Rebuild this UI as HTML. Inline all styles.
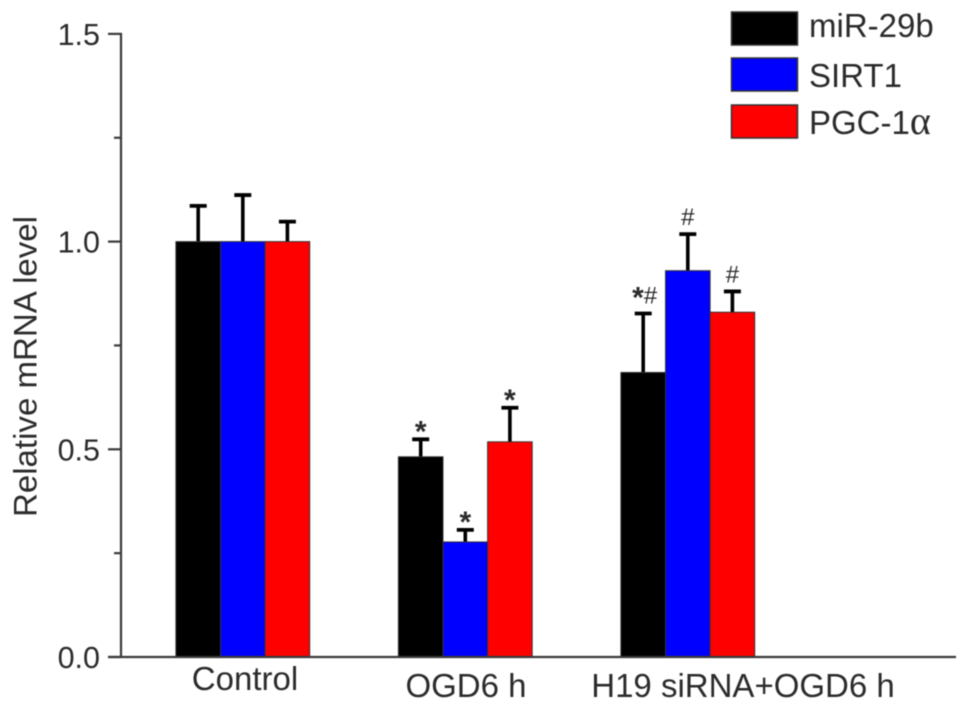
<!DOCTYPE html>
<html lang="en">
<head>
<meta charset="utf-8">
<title>Relative mRNA level</title>
<style>
  html, body { margin: 0; padding: 0; background: #fff; }
  svg { display: block; filter: blur(0.45px); }
  text { font-family: "Liberation Sans", sans-serif; fill: #2b2b2b; }
</style>
</head>
<body>
<svg id="chart" xmlns="http://www.w3.org/2000/svg" width="969" height="710" viewBox="0 0 969 710"></svg>
<script>
const categories = ["Control", "OGD6 h", "H19 siRNA+OGD6 h"];
const seriesNames = ["miR-29b", "SIRT1", "PGC-1"];
const seriesSuffixes = ["", "", "α"];
const seriesColors = ["#000000", "#0000ff", "#ff0000"];
const mir29bValues = [1.0, 0.482, 0.685];
const sirt1Values = [1.0, 0.277, 0.93];
const pgc1aValues = [1.0, 0.518, 0.83];
const mir29bErrorTops = [1.086, 0.524, 0.827];
const sirt1ErrorTops = [1.112, 0.306, 1.018];
const pgc1aErrorTops = [1.048, 0.600, 0.880];
const mir29bMarks = ["", "*", "*#"];
const sirt1Marks = ["", "*", "#"];
const pgc1aMarks = ["", "*", "#"];
const majorTicks = [0, 0.5, 1.0, 1.5];
const minorTicks = [0.25, 0.75, 1.25];
const majorTickLabels = ["0.0", "0.5", "1.0", "1.5"];
const yAxisTitle = "Relative mRNA level";

const seriesValues = [mir29bValues, sirt1Values, pgc1aValues];
const seriesErrorTops = [mir29bErrorTops, sirt1ErrorTops, pgc1aErrorTops];
const seriesMarks = [mir29bMarks, sirt1Marks, pgc1aMarks];
const seriesKeys = ["mir-29b", "sirt1", "pgc-1a"];

const svg = document.getElementById("chart");
const NS = "http://www.w3.org/2000/svg";
const axisColor = "#3a3a3a";

function yScale(v) { return 657 - v * 415.4; }
function groupCenter(i) { return 242.8 + i * 222.5; }
const barWidth = 44.6;
function barLeft(c, s) { return groupCenter(c) + (s - 1.5) * barWidth; }

function make(tag, attrs, text) {
  const el = document.createElementNS(NS, tag);
  for (const k in attrs) el.setAttribute(k, attrs[k]);
  if (text !== undefined) el.textContent = text;
  svg.appendChild(el);
  return el;
}

// bars and error bars
seriesValues.forEach(function (values, s) {
  values.forEach(function (v, c) {
    const left = barLeft(c, s);
    const mid = left + barWidth / 2;
    const errTop = yScale(seriesErrorTops[s][c]);

    const stem = make("line", { x1: mid, x2: mid, y1: yScale(v), y2: errTop, stroke: "#000", "stroke-width": 3.6 });
    
    

    const cap = make("line", { x1: mid - 8.5, x2: mid + 8.5, y1: errTop, y2: errTop, stroke: "#000", "stroke-width": 3.8 });
    
    

    const bar = make("rect", { x: left, y: yScale(v), width: barWidth, height: yScale(0) - yScale(v), fill: seriesColors[s], stroke: "#333", "stroke-width": 1 });
    
    

    const markText = seriesMarks[s][c];
    if (markText) {
      const combined = markText.length > 1;
      const mark = make("text", {
        x: mid + (combined ? 1.5 : 0),
        y: errTop,
        "text-anchor": "middle"
      });
      
      
      let currentOffset = 0;
      markText.split("").forEach(function (ch) {
        const isStar = ch === "*";
        const target = isStar ? (combined ? -6 : 2) : (combined ? -10 : -9);
        const span = document.createElementNS(NS, "tspan");
        span.setAttribute("font-size", isStar ? "30" : "24");
        if (isStar) span.setAttribute("font-weight", "bold");
        span.setAttribute("dy", target - currentOffset);
        currentOffset = target;
        span.textContent = ch;
        mark.appendChild(span);
      });
    }
  });
});

// y axis
const yAxis = make("line", { x1: 121, x2: 121, y1: yScale(1.5) - 1, y2: yScale(0) + 1, stroke: axisColor, "stroke-width": 2.2 });



// x axis
const xAxis = make("line", { x1: 108, x2: 956, y1: yScale(0), y2: yScale(0), stroke: axisColor, "stroke-width": 2.2 });



majorTicks.forEach(function (t, i) {
  const tick = make("line", { x1: 108, x2: 121, y1: yScale(t), y2: yScale(t), stroke: axisColor, "stroke-width": 2.2 });
  
  

  const label = make("text", { x: 100, y: yScale(t) + 11, "text-anchor": "end", "font-size": 30.5 }, majorTickLabels[i]);
  
  
});

minorTicks.forEach(function (t) {
  const tick = make("line", { x1: 114, x2: 121, y1: yScale(t), y2: yScale(t), stroke: axisColor, "stroke-width": 2.2 });
  
  
});

// y axis title
const yTitle = make("text", { transform: "translate(36.5 517) rotate(-90)", "font-size": 32, textLength: 301, lengthAdjust: "spacingAndGlyphs" }, yAxisTitle);



// category labels
categories.forEach(function (name, c) {
  const label = make("text", {
    x: c === 0 ? 245 : (c === 1 ? 466 : 743),
    y: c === 0 ? 690 : 697,
    "text-anchor": "middle",
    "font-size": 33
  }, name);
  
  
});

// legend
const legendSwatchTops = [12, 58, 105];
const legendBaselines = [37, 87, 134];
seriesNames.forEach(function (name, s) {
  const swatch = make("rect", { x: 731.5, y: legendSwatchTops[s], width: 66, height: 33, fill: seriesColors[s], stroke: "#333", "stroke-width": 1.5 });
  
  

  const label = make("text", { x: 809, y: legendBaselines[s], "font-size": 33 }, name);
  
  
  if (seriesSuffixes[s]) {
    const suffix = document.createElementNS(NS, "tspan");
    suffix.setAttribute("font-family", "Liberation Serif, serif");
    suffix.setAttribute("font-size", "40");
    suffix.textContent = seriesSuffixes[s];
    label.appendChild(suffix);
  }
});
</script>
</body>
</html>
